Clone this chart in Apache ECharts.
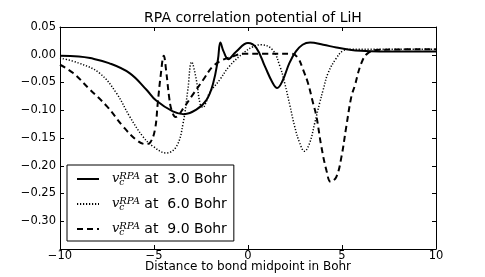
<!DOCTYPE html>
<html>
<head>
<meta charset="utf-8">
<script src="https://cdn.jsdelivr.net/npm/echarts@6/dist/echarts.min.js"></script>
<style>
html,body{margin:0;padding:0;background:#fff;}
#c{width:485px;height:277px;}
</style>
</head>
<body>
<div id="c"></div>
<script>
// ---- data ----
const title = 'RPA correlation potential of LiH';
const xAxisName = 'Distance to bond midpoint in Bohr';
const distances = ['3.0', '6.0', '9.0'];

const x30 = [-10, -9, -8.4, -7.4, -6.3, -5.4, -4.9, -4.0, -3.4, -2.75, -2.2, -1.85, -1.6, -1.47, -1.3, -1.05, -0.65, 0, 0.45, 0.9, 1.3, 1.55, 1.85, 2.2, 2.55, 2.9, 3.3, 4.0, 4.7, 5.4, 6.0, 7, 8, 10];
const y30 = [-0.002, -0.003, -0.006, -0.015, -0.033, -0.063, -0.082, -0.102, -0.107, -0.099, -0.081, -0.051, -0.009, 0.022, 0.006, -0.008, 0.005, 0.021, 0.012, -0.021, -0.050, -0.060, -0.046, -0.015, 0.006, 0.018, 0.022, 0.018, 0.013, 0.009, 0.007, 0.006, 0.006, 0.006];

const x60 = [-10, -9, -7.9, -7.0, -6.3, -5.6, -5.05, -4.35, -3.8, -3.45, -3.2, -3.0, -2.75, -2.55, -2.4, -2.2, -2.05, -1.5, -1.0, -0.25, 0.3, 0.7, 1.3, 1.7, 1.95, 2.22, 2.48, 2.75, 3.0, 3.28, 3.55, 3.81, 4.0, 4.26, 4.7, 5.05, 5.5, 6.5, 10];
const y60 = [-0.006, -0.015, -0.033, -0.069, -0.111, -0.147, -0.165, -0.177, -0.165, -0.123, -0.063, -0.013, -0.045, -0.088, -0.095, -0.083, -0.069, -0.045, -0.021, 0.003, 0.015, 0.018, 0.009, -0.021, -0.051, -0.090, -0.129, -0.159, -0.174, -0.159, -0.123, -0.087, -0.063, -0.033, -0.006, 0.007, 0.010, 0.010, 0.010];

const x90 = [-10, -9.3, -8.4, -7.5, -6.65, -5.95, -5.45, -5.2, -4.95, -4.8, -4.65, -4.48, -4.34, -4.2, -4.07, -3.85, -3.37, -3.0, -2.4, -1.87, -1.33, -0.8, -0.27, 1.0, 2.3, 2.66, 2.93, 3.19, 3.46, 3.64, 3.9, 4.17, 4.4, 4.7, 4.97, 5.23, 5.5, 5.67, 6.03, 6.38, 7, 10];
const y90 = [-0.018, -0.033, -0.063, -0.093, -0.129, -0.153, -0.161, -0.158, -0.135, -0.087, -0.039, -0.002, -0.033, -0.075, -0.099, -0.112, -0.093, -0.075, -0.046, -0.021, -0.009, -0.003, 0.002, 0.002, 0.002, -0.006, -0.027, -0.051, -0.087, -0.111, -0.165, -0.208, -0.229, -0.220, -0.184, -0.129, -0.075, -0.057, -0.015, 0.003, 0.009, 0.010];

const xTicks = [-10, -5, 0, 5, 10];
const yMin = -0.35, yMax = 0.05, yStep = 0.05;

// ---- chart ----
const zip = (xs, ys) => xs.map((x, i) => [x, ys[i]]);
const seriesDefs = [
  { name: distances[0], data: zip(x30, y30), line: { width: 2, type: 'solid' } },
  { name: distances[1], data: zip(x60, y60), line: { width: 1.5, type: [1.2, 1.8] } },
  { name: distances[2], data: zip(x90, y90), line: { width: 2, type: [6, 4] } }
];

const FONT = 'DejaVu Sans';
const SERIF = 'DejaVu Serif';
const minus = s => s.replace('-', '\u2212');

const chart = echarts.init(document.getElementById('c'), null, { renderer: 'canvas' });
const axisCommon = {
  axisLine: { show: true, onZero: false, lineStyle: { color: '#000', width: 1 } },
  axisTick: { show: true, inside: true, length: 4, lineStyle: { color: '#000', width: 1 } },
  splitLine: { show: false }
};
chart.setOption({
  animation: false,
  backgroundColor: '#fff',
  title: {
    text: title,
    left: 248,
    top: 6,
    textAlign: 'center',
    textStyle: { fontFamily: FONT, fontSize: 14, fontWeight: 'normal', color: '#000' }
  },
  grid: { left: 60, right: 49, top: 27, bottom: 28, containLabel: false, outerBoundsMode: 'none' },
  xAxis: [
    Object.assign({}, axisCommon, {
      type: 'value', min: -10, max: 10, interval: 5, position: 'bottom',
      name: xAxisName, nameLocation: 'middle', nameGap: 12, nameMoveOverlap: false,
      nameTextStyle: { fontFamily: FONT, fontSize: 12, color: '#000', verticalAlign: 'top' },
      axisLabel: { color: '#000', fontFamily: FONT, fontSize: 11.5, margin: 1,
        formatter: v => minus(String(v)) }
    }),
    Object.assign({}, axisCommon, {
      type: 'value', min: -10, max: 10, interval: 5, position: 'top',
      axisLabel: { show: false }
    })
  ],
  yAxis: [
    Object.assign({}, axisCommon, {
      type: 'value', min: yMin, max: yMax, interval: yStep, position: 'left',
      axisLabel: { color: '#000', fontFamily: FONT, fontSize: 11.5, margin: 4,
        formatter: v => {
          if (Math.abs(v - yMin) < 1e-9) return '';
          if (Math.abs(v) < 1e-9) v = 0;
          return minus(v.toFixed(2));
        } }
    }),
    Object.assign({}, axisCommon, {
      type: 'value', min: yMin, max: yMax, interval: yStep, position: 'right',
      axisLabel: { show: false }
    })
  ],
  legend: {
    orient: 'vertical',
    left: 67, top: 165,
    backgroundColor: '#fff',
    borderColor: '#000', borderWidth: 1,
    padding: [4, 7, 2, 9],
    itemGap: 5,
    itemWidth: 22, itemHeight: 10,
    itemStyle: { color: 'rgba(0,0,0,0)', borderColor: 'rgba(0,0,0,0)', borderWidth: 0, opacity: 0 },
    data: distances,
    formatter: name => '{v|v}{c|c}{r|RPA}{t| at  ' + name + ' Bohr}',
    textStyle: {
      color: '#000',
      rich: {
        v: { fontFamily: SERIF, fontStyle: 'italic', fontSize: 13, lineHeight: 20, padding: [0, 0, 0, 8] },
        c: { fontFamily: SERIF, fontStyle: 'italic', fontSize: 9, lineHeight: 20, verticalAlign: 'bottom', width: 0, padding: [0, 0, 2, 0] },
        r: { fontFamily: SERIF, fontStyle: 'italic', fontSize: 10, lineHeight: 20, verticalAlign: 'top', padding: [2, 0, 0, 0] },
        t: { fontFamily: FONT, fontSize: 14, lineHeight: 20 }
      }
    }
  },
  series: seriesDefs.map(s => ({
    type: 'line',
    name: s.name,
    data: s.data,
    xAxisIndex: 0, yAxisIndex: 0,
    smooth: 0.4,
    symbol: 'none',
    clip: true,
    lineStyle: { color: '#000', width: s.line.width, type: s.line.type },
    itemStyle: { color: '#000' }
  }))
});
</script>
</body>
</html>
